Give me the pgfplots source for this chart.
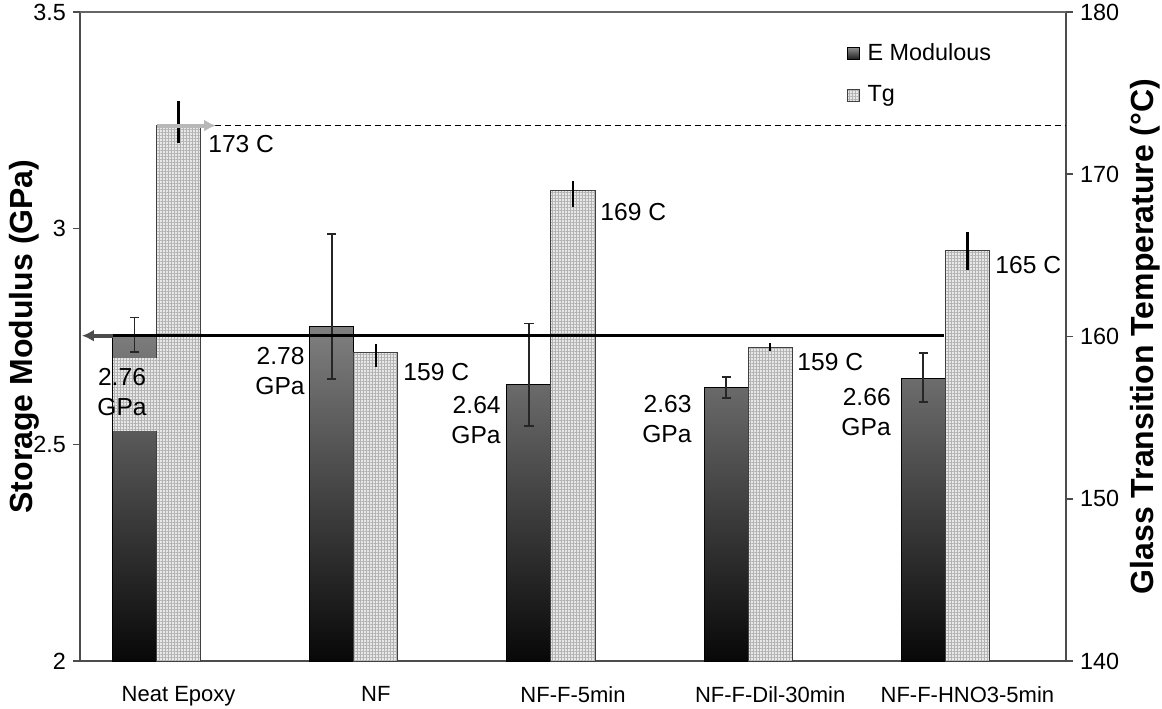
\documentclass[border=0pt]{standalone}
\usepackage{fontspec}
\setmainfont{Liberation Sans}
\usepackage{pgfplots}
\pgfplotsset{compat=1.18}
\usepackage{pgfplotstable}
\usetikzlibrary{arrows.meta,patterns.meta}

% E modulus (GPa) with asymmetric error bars
\pgfplotstableread{
x y ep em
0 2.754 0.040 0.040
1 2.774 0.213 0.123
2 2.640 0.140 0.096
3 2.631 0.025 0.023
4 2.653 0.059 0.055
}\Edata
% Tg (C)
\pgfplotstableread{
x y ep em
0 173.0 1.50 1.10
1 159.0 0.55 0.90
2 169.0 0.60 1.00
3 159.35 0.25 0.25
4 165.3 1.15 1.20
}\Tgdata

\tikzset{tggrid/.style={fill=black!9,
  postaction={pattern={Lines[angle=0,distance=1.5pt,line width=0.25pt]}, pattern color=black!30},
  postaction={pattern={Lines[angle=90,distance=1.5pt,line width=0.25pt]}, pattern color=black!30}}}

\begin{document}
\begin{tikzpicture}
\useasboundingbox (-40pt,-23.5pt) rectangle (541pt,330.5pt);
\begin{axis}[
  at={(0pt,0pt)}, anchor=south west,
  scale only axis, width=493pt, height=324.5pt,
  xmin=-0.5, xmax=4.5, ymin=0, ymax=1.5,
  clip=false,
  axis x line*=bottom, axis y line*=left,
  axis line style={black!70, line width=0.8pt},
  xtick={0,1,2,3,4},
  xticklabels={Neat Epoxy,NF,NF-F-5min,NF-F-Dil-30min,NF-F-HNO3-5min},
  x tick style={draw=none},
  xticklabel style={font=\fontsize{11}{13}\selectfont, yshift=-5.5pt},
  ytick={0,0.5,1,1.5}, yticklabels={2,2.5,3,3.5},
  yticklabel style={font=\fontsize{11.7}{14}\selectfont},
  y tick style={black!70, line width=0.8pt},
  tick align=outside, major tick length=3.5pt,
  ylabel={\bfseries Storage Modulus (GPa)},
  every axis y label/.style={at={(axis description cs:-0.056,0.5)}, rotate=90, anchor=center, font=\fontsize{16}{18}\selectfont},
]
\addplot[ybar, bar width=0.2235, bar shift=-0.2235, draw=black, line width=0.5pt,
  top color=black!50, bottom color=black!97]
  table[x=x, y expr=\thisrow{y}-2] {\Edata};
\end{axis}

\begin{axis}[
  at={(0pt,0pt)}, anchor=south west,
  scale only axis, width=493pt, height=324.5pt,
  xmin=-0.5, xmax=4.5, ymin=0, ymax=40,
  clip=false,
  axis x line=none, axis y line*=right,
  axis line style={black!70, line width=0.8pt},
  ytick={0,10,20,30,40}, yticklabels={140,150,160,170,180},
  yticklabel style={font=\fontsize{11.7}{14}\selectfont},
  y tick style={black!70, line width=0.8pt},
  tick align=outside, major tick length=3.5pt,
  ylabel={\bfseries Glass Transition Temperature (°C)},
  every axis y label/.style={at={(axis description cs:1.08,0.5)}, rotate=90, anchor=center, font=\fontsize{16}{18}\selectfont},
  legend style={at={(0.771,0.964)}, anchor=north west, draw=none, fill=none,
    font=\fontsize{11.7}{14}\selectfont, row sep=7pt, cells={anchor=west},
    nodes={inner xsep=4pt}},
  legend image code/.code={\draw[#1, line width=0.5pt] (0pt,-3pt) rectangle (6pt,3pt);},
]
\draw[black!60, line width=0.6pt] (axis cs:-0.5,40) -- (axis cs:4.5,40);
\addlegendimage{draw=black, top color=black!45, bottom color=black!90}
\addlegendentry{E Modulous}
\addplot[ybar, bar width=0.2235, bar shift=0, draw=black!75, line width=0.5pt,
  tggrid]
  table[x=x, y expr=\thisrow{y}-140] {\Tgdata};
\addlegendentry{Tg}
% Tg error bars (no caps)
\addplot[draw=none, mark=none, forget plot,
  error bars/.cd, y dir=both, y explicit, error mark=none,
  error bar style={draw=black, line width=1.2pt}]
  table[x=x, y expr=\thisrow{y}-140, y error plus=ep, y error minus=em] {\Tgdata};
% E error bars (with caps), converted to this axis: 1 GPa = 80/3 C
\addplot[draw=none, mark=none, forget plot,
  error bars/.cd, y dir=both, y explicit, error mark=-,
  error bar style={draw=black!85, line width=0.9pt},
  error mark options={draw=black!85, line width=0.9pt, mark size=2.3pt, rotate=90}]
  table[x expr=\thisrow{x}-0.2235, y expr=(\thisrow{y}-2)*80/3,
        y error plus expr=\thisrow{ep}*80/3, y error minus expr=\thisrow{em}*80/3] {\Edata};

% reference lines
\draw[line width=1.4pt] (axis cs:-0.333,20.05) -- (axis cs:3.881,20.05);
\draw[black!70, line width=2pt, -{Latex[length=6pt,width=6pt]}] (axis cs:-0.333,20.05) -- (axis cs:-0.49,20.05);
\draw[line width=0.5pt, dash pattern=on 3pt off 2pt] (axis cs:0.185,33) -- (axis cs:4.5,33);
\draw[black!28, line width=2pt, -{Latex[length=6pt,width=6pt]}] (axis cs:-0.11,33) -- (axis cs:0.19,33);

% labels
\path[tggrid] (axis cs:-0.333,18.67) rectangle (axis cs:-0.069,14.18);
\begin{scope}[every node/.style={font=\fontsize{12.3}{15}\selectfont, inner sep=0pt}]
\node[align=center] at (axis cs:-0.287,16.58) {2.76\\GPa};
\node[align=right, anchor=east] at (axis cs:0.641,17.87) {2.78\\GPa};
\node[align=right, anchor=east] at (axis cs:1.635,14.85) {2.64\\GPa};
\node[align=right, anchor=east] at (axis cs:2.603,14.92) {2.63\\GPa};
\node[align=right, anchor=east] at (axis cs:3.613,15.35) {2.66\\GPa};
\node[anchor=west] at (axis cs:0.149,31.86) {173 C};
\node[anchor=west] at (axis cs:1.138,17.81) {159 C};
\node[anchor=west] at (axis cs:2.137,27.67) {169 C};
\node[anchor=west] at (axis cs:3.136,18.43) {159 C};
\node[anchor=west] at (axis cs:4.140,24.41) {165 C};
\end{scope}
\end{axis}
\end{tikzpicture}
\end{document}
